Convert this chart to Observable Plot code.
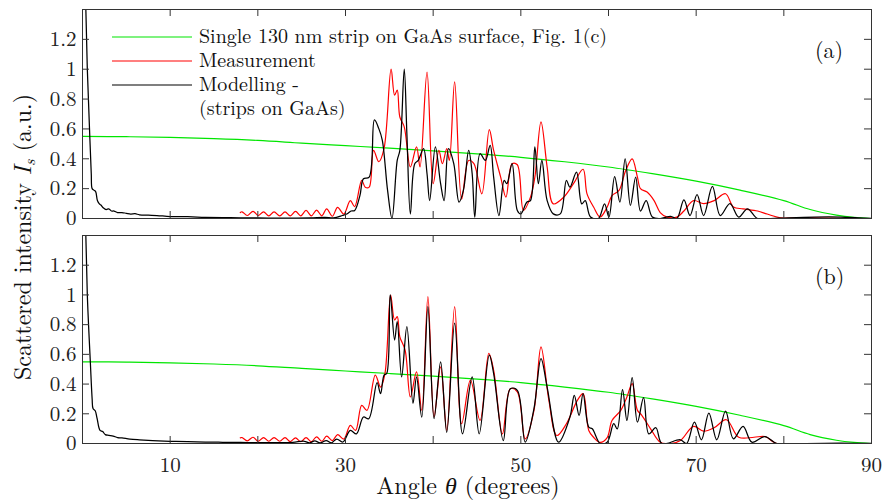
<!DOCTYPE html>
<html><head><meta charset="utf-8">
<script src="https://cdn.jsdelivr.net/npm/d3@7"></script>
<script src="https://cdn.jsdelivr.net/npm/@observablehq/plot@0.6"></script>
<style>
body{margin:0;background:#fff;}
#wrap{position:relative;width:883px;height:502px;font-family:'Latin Modern Roman',serif;color:#222;overflow:hidden;}
#wrap svg{display:block;overflow:visible;}
#overlay{position:absolute;left:0;top:0;pointer-events:none;}
</style></head><body>
<div id="wrap"></div>
<script>
// ---- data (angle in degrees, scattered intensity in a.u.) ----
const xTickMarks = [10, 20, 30, 40, 50, 60, 70, 80];
const xTickLabels = [10, 30, 50, 70, 90];
const yTickValues = [0, 0.2, 0.4, 0.6, 0.8, 1, 1.2];
const panelTags = ["(a)", "(b)"];
const legendLabels = ["Single 130 nm strip on GaAs surface, Fig. 1(c)", "Measurement", "Modelling -", "(strips on GaAs)"];
const seriesColors = ["#00e600", "#ff0000", "#000000"];
const xTitle = ["Angle ", "θ", " (degrees)"];
const yTitle = ["Scattered intensity ", "I", "s", " (a.u.)"];

const singleStrip = [[0,0.55],[5,0.548],[10,0.543],[15,0.535],[20,0.523],[25,0.505],[30,0.488],[35,0.471],[40,0.453],[45,0.433],[50,0.41],[55,0.38],[60,0.345],[65,0.3],[70,0.25],[75,0.19],[80,0.12],[83,0.06],[86,0.022],[88,0.007],[90,0]];

const measA = [[18.0,0.04],[18.2,0.045],[18.8,0.02],[19.45,0.048],[20.05,0.02],[20.65,0.045],[21.25,0.018],[21.85,0.045],[22.5,0.018],[23.1,0.045],[23.7,0.018],[24.3,0.048],[24.9,0.018],[25.5,0.054],[26.1,0.018],[26.7,0.056],[27.3,0.018],[27.85,0.065],[28.5,0.015],[29.1,0.075],[29.8,0.03],
[30.55,0.12],[31.05,0.08],[31.85,0.255],[32.25,0.21],[32.7,0.21],[33.2,0.456],[33.8,0.38],[34.4,0.47],[35.2,1.0],[35.6,0.826],[35.9,0.86],[36.2,0.68],[36.7,0.614],[37.4,0.345],[38.1,0.48],[38.5,0.345],[39.3,0.98],[40.0,0.233],[40.65,0.456],[41.05,0.367],[41.55,0.468],[41.85,0.389],[42.45,0.915],[43.25,0.13],[44.05,0.389],[44.65,0.367],[45.55,0.165],[46.4,0.595],[46.9,0.456],[47.7,0.277],[48.3,0.143],[49.0,0.367],[49.6,0.36],[50.3,0.054],[51.1,0.143],[51.6,0.277],[52.3,0.647],[53.0,0.345],[53.7,0.098],[54.9,0.143],[56.0,0.233],[57.1,0.33],[57.55,0.165],[58.3,0.077],[59.05,0.01],[59.85,0.077],[60.4,0.154],[61.2,0.188],[61.95,0.32],[62.7,0.40],[63.3,0.277],[63.65,0.2],[64.4,0.177],[65.2,0.12],[65.9,0.04],[66.7,0.009],[67.8,0.009],[68.6,0.05],[69.7,0.12],[70.85,0.1],[72.05,0.12],[73.35,0.166],[74.25,0.077],[75.35,0.065],[77.0,0.05],[78.1,0.03],[79.6,0.005],[83.4,0.005],[87.25,0],[89.45,0]];

const modelA = [[0,2.2],[0.3,1.6],[0.55,1.0],[0.8,0.6],[1.0,0.3],[1.1,0.2],[1.3,0.19],[1.5,0.18],[1.7,0.12],[1.9,0.1],[2.1,0.09],[2.4,0.07],[2.7,0.06],[3.0,0.065],[3.3,0.05],[3.6,0.05],[4.0,0.04],[4.5,0.04],[5.0,0.035],[5.5,0.03],[6.0,0.032],[6.5,0.025],[7.5,0.022],[8.5,0.02],[10,0.013],[12,0.012],[14,0.008],[16,0.006],[18,0.005],[20,0.004],[22,0.003],[24,0.003],[26,0.004],
[27.65,0.008],[28.65,0.004],[29.65,0.02],[30.15,0.03],[30.65,0.05],[31.05,0.054],[31.65,0.155],[32.05,0.266],[32.7,0.277],[33.3,0.66],[33.8,0.602],[34.2,0.524],[34.8,0.188],[35.3,0],[35.9,0.389],[36.2,0.456],[36.7,1.0],[37.0,0.57],[37.4,0.03],[37.9,0.367],[38.3,0.389],[38.9,0.468],[39.3,0.3],[39.6,0.12],[40.25,0.479],[40.85,0.233],[41.25,0.12],[41.75,0.468],[42.35,0.367],[42.95,0.11],[43.45,0.188],[44.05,0.456],[44.45,0.3],[44.75,0.009],[45.35,0.434],[45.95,0.389],[46.5,0.49],[46.9,0.277],[47.5,0.02],[48.1,0.255],[48.4,0.233],[49.0,0.367],[49.6,0.054],[50.0,0.031],[50.7,0.11],[51.1,0.12],[51.6,0.479],[52.0,0.233],[52.4,0.389],[53.0,0.12],[53.7,0.031],[54.5,0.031],[55.2,0.255],[55.6,0.21],[56.35,0.31],[56.95,0.098],[57.35,0.12],[57.95,0.01],[58.85,0],[59.55,0.098],[60.05,0.01],[60.7,0.28],[61.3,0.11],[61.9,0.40],[62.5,0.088],[63.1,0.277],[63.65,0.05],[64.3,0.12],[65.0,0.01],[65.9,0],[67.1,0.015],[67.8,0],[68.6,0.125],[69.3,0.02],[70.1,0.16],[70.85,0.02],[71.85,0.215],[72.75,0.02],[73.85,0.1],[74.85,0.01],[75.85,0.065],[77.0,0],[78.5,0],[80.5,0.005],[83.5,0.01],[86.5,0.01],[88.5,0.005],[90,0]];

const measB = [[18.0,0.038],[18.2,0.04],[18.8,0.018],[19.45,0.042],[20.05,0.015],[20.65,0.04],[21.25,0.015],[21.85,0.04],[22.5,0.015],[23.1,0.04],[23.7,0.013],[24.3,0.038],[24.9,0.012],[25.5,0.04],[26.1,0.012],[26.7,0.045],[27.3,0.015],[27.85,0.05],[28.5,0.02],[29.1,0.06],[29.8,0.03],
[30.55,0.122],[31.15,0.088],[31.85,0.257],[32.45,0.223],[33.4,0.46],[34.0,0.38],[34.5,0.471],[35.15,0.999],[35.6,0.831],[35.9,0.854],[36.2,0.718],[36.8,0.628],[37.4,0.313],[38.1,0.482],[38.7,0.223],[39.4,0.989],[40.1,0.18],[40.85,0.516],[41.55,0.088],[42.45,0.921],[43.25,0.133],[44.25,0.426],[45.35,0.155],[46.35,0.606],[46.9,0.493],[47.9,0.065],[48.8,0.369],[49.6,0.347],[50.5,0.031],[51.5,0.223],[52.3,0.651],[53.2,0.29],[54.1,0.054],[55.2,0.133],[56.45,0.29],[57.1,0.336],[57.75,0.088],[58.3,0.042],[59.05,0.007],[59.85,0.04],[60.4,0.155],[61.4,0.223],[62.1,0.313],[62.7,0.403],[63.3,0.223],[63.8,0.19],[64.8,0.099],[65.9,0.009],[67.1,0],[68.2,0.02],[69.7,0.115],[70.85,0.083],[72.05,0.106],[73.45,0.16],[74.85,0.042],[76.6,0.042],[77.85,0.047],[79.2,0],[82.5,0],[86.5,0],[89.45,0]];

const modelB = [[0,2.2],[0.3,1.6],[0.55,1.0],[0.9,0.54],[1.1,0.3],[1.2,0.236],[1.45,0.22],[1.66,0.17],[2.0,0.088],[2.3,0.08],[2.6,0.06],[3.0,0.055],[3.5,0.05],[4.0,0.04],[4.5,0.038],[5.4,0.03],[6.5,0.025],[8,0.02],[10,0.015],[12,0.012],[14,0.01],[16,0.008],[18,0.007],[20,0.006],[22,0.006],[24,0.008],
[25.3,0.015],[25.9,0.004],[26.5,0.018],[27.1,0.004],[27.8,0.02],[28.4,0.005],[29.0,0.03],[29.7,0.01],[30.55,0.088],[31.25,0.065],[32.05,0.178],[32.65,0.167],[33.6,0.41],[34.0,0.336],[34.4,0.46],[34.7,0.471],[35.1,1.0],[35.6,0.696],[35.9,0.82],[36.4,0.448],[37.0,0.786],[37.7,0.27],[38.1,0.448],[38.7,0.178],[39.4,0.921],[40.1,0.167],[40.85,0.55],[41.55,0.075],[42.45,0.81],[43.35,0.065],[44.45,0.448],[45.25,0.065],[46.4,0.594],[46.9,0.471],[48.0,0.02],[48.8,0.369],[49.6,0.358],[50.5,0.009],[51.5,0.234],[52.3,0.572],[53.0,0.38],[54.3,0.009],[55.6,0.178],[56.1,0.324],[56.65,0.189],[57.1,0.336],[57.75,0.11],[58.15,0.099],[59.05,0],[59.85,0.009],[60.6,0.133],[61.0,0.099],[61.6,0.363],[62.1,0.155],[62.7,0.443],[63.3,0.144],[64.0,0.308],[64.6,0.065],[65.4,0.106],[66.1,0],[68.2,0.025],[68.9,0],[69.8,0.144],[70.6,0.025],[71.45,0.205],[72.35,0.025],[73.35,0.218],[74.25,0.031],[75.35,0.115],[76.35,0.009],[77.85,0.047],[79.2,0],[82.5,0],[86.5,0.002],[90,0]];

// ---- layout ----
const W = 883, ML = 82, MR = 12;
const frameStroke = "#333";
const FONT = "'Latin Modern Roman', serif";

function panel(measured, modelled, {height, marginTop, marginBottom, showX}) {
  const frameH = height - marginTop - marginBottom;
  const frameW = W - ML - MR;
  const tk = 7;
  const line = (data, stroke, sw) => Plot.line(data, {x: d => d[0], y: d => d[1], stroke, strokeWidth: sw, curve: "catmull-rom", clip: true});
  const marks = [
    line(singleStrip, seriesColors[0], 1.2),
    line(measured, seriesColors[1], 1.2),
    line(modelled, seriesColors[2], 1.25),
    Plot.tickX(xTickMarks, {x: d => d, insetTop: frameH - tk, stroke: frameStroke}),
    Plot.tickX(xTickMarks, {x: d => d, insetBottom: frameH - tk, stroke: frameStroke}),
    Plot.tickY(yTickValues.slice(1), {y: d => d, insetRight: frameW - tk, stroke: frameStroke}),
    Plot.tickY(yTickValues.slice(1), {y: d => d, insetLeft: frameW - tk, stroke: frameStroke}),
    Plot.frame({stroke: frameStroke}),
    Plot.axisY({ticks: yTickValues, tickSize: 0, tickPadding: 6, tickFormat: d => String(d), label: null})
  ];
  if (showX) marks.push(Plot.axisX({ticks: xTickLabels, tickSize: 0, tickPadding: 14, tickFormat: d => String(d), label: null}));
  return Plot.plot({
    width: W, height, marginLeft: ML, marginRight: MR, marginTop, marginBottom,
    x: {domain: [0, 90], axis: null},
    y: {domain: [0, 1.4], axis: null},
    style: {fontFamily: FONT, fontSize: "21px", color: "#222", background: "transparent", overflow: "visible"},
    marks
  });
}

const wrap = document.getElementById("wrap");
wrap.appendChild(panel(measA, modelA, {height: 226, marginTop: 9, marginBottom: 8, showX: false}));
wrap.appendChild(panel(measB, modelB, {height: 276, marginTop: 9, marginBottom: 59, showX: true}));

// ---- overlay: legend, panel tags, axis titles ----
const NS = "http://www.w3.org/2000/svg";
const ov = document.createElementNS(NS, "svg");
ov.setAttribute("id", "overlay");
ov.setAttribute("width", W); ov.setAttribute("height", 502);
ov.setAttribute("style", "font-family:" + FONT + ";font-size:20px");
ov.setAttribute("fill", "#111");
function el(tag, attrs, text) {
  const e = document.createElementNS(NS, tag);
  for (const k in attrs) e.setAttribute(k, attrs[k]);
  if (text != null) e.textContent = text;
  return e;
}
const legendY = [37, 61, 85];
legendLabels.forEach((lab, i) => {
  const yb = 37 + 24 * i + 6;
  if (i < 3) ov.appendChild(el("line", {x1: 112, x2: 192, y1: legendY[i], y2: legendY[i], stroke: seriesColors[i], "stroke-width": 1.2}));
  ov.appendChild(el("text", {x: 199, y: yb}, lab));
});
ov.appendChild(el("text", {x: 815, y: 58, "font-size": 22}, panelTags[0]));
ov.appendChild(el("text", {x: 815, y: 284, "font-size": 22}, panelTags[1]));
// x title
const xt = el("text", {x: 468, y: 494, "text-anchor": "middle", "font-size": 24});
xt.appendChild(el("tspan", {}, xTitle[0]));
xt.appendChild(el("tspan", {"font-style": "italic"}, xTitle[1]));
xt.appendChild(el("tspan", {}, xTitle[2]));
ov.appendChild(xt);
// y title
const yt = el("text", {transform: "translate(31,237) rotate(-90)", "text-anchor": "middle", "font-size": 24});
yt.appendChild(el("tspan", {}, yTitle[0]));
yt.appendChild(el("tspan", {"font-style": "italic"}, yTitle[1]));
yt.appendChild(el("tspan", {"font-style": "italic", "font-size": "16", dy: "4"}, yTitle[2]));
yt.appendChild(el("tspan", {dy: "-4"}, yTitle[3]));
ov.appendChild(yt);
wrap.appendChild(ov);
</script>
</body></html>
